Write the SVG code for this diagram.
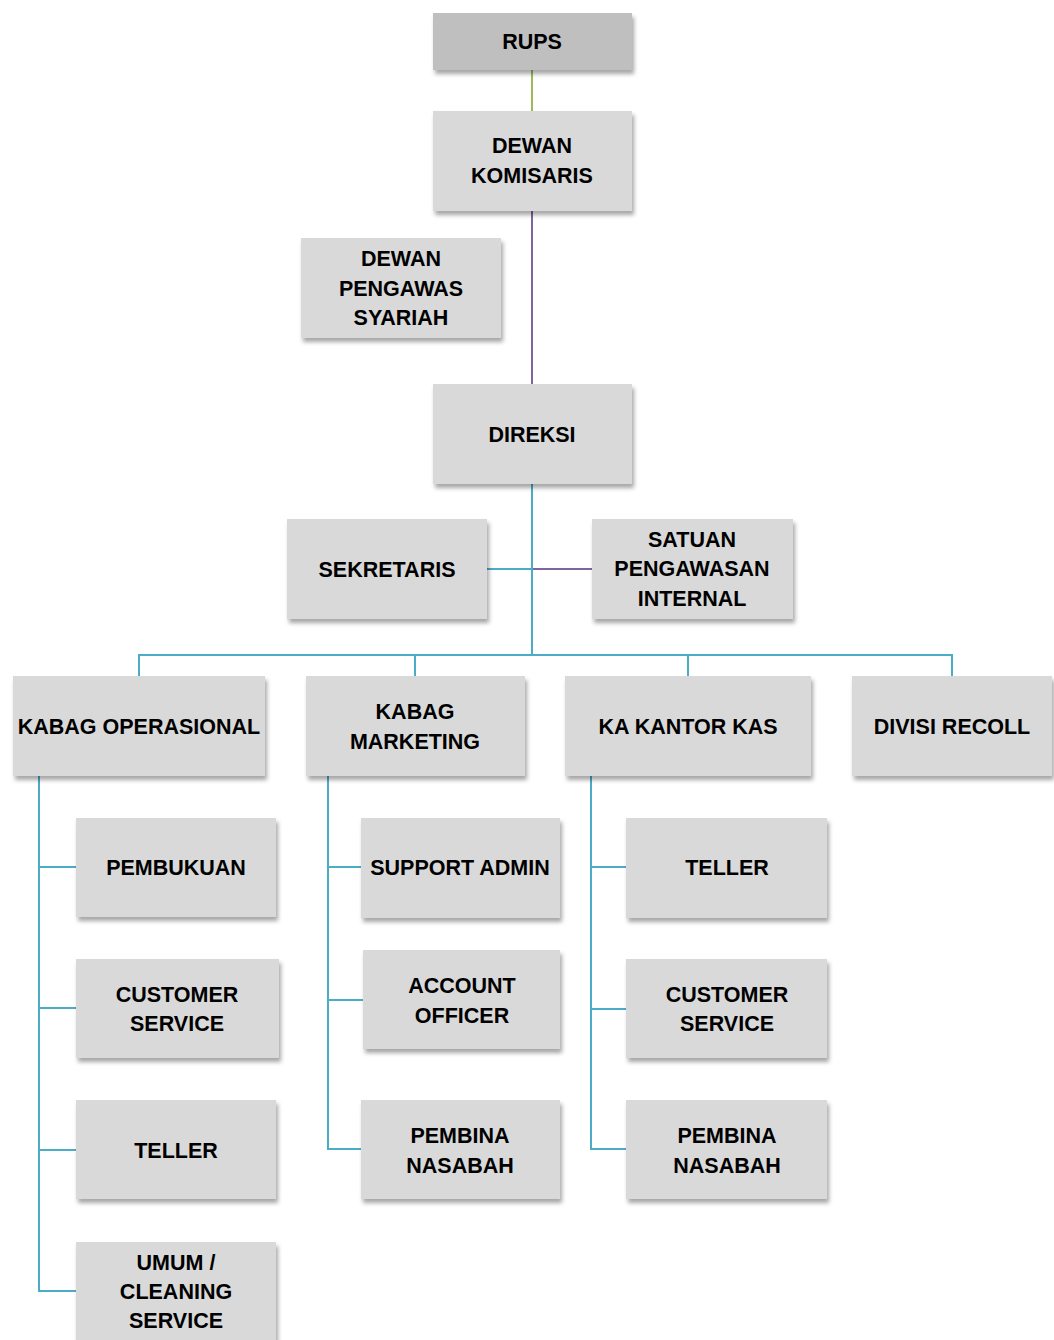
<svg xmlns="http://www.w3.org/2000/svg" width="1054" height="1340" viewBox="0 0 1054 1340">
<defs>
<filter id="sh" x="-10%" y="-10%" width="125%" height="135%">
<feDropShadow dx="2" dy="4" stdDeviation="2" flood-color="#000" flood-opacity="0.35"/>
</filter>
<style>
.box{fill:#d9d9d9;filter:url(#sh)}
.dark{fill:#bfbfbf}
.t{font-family:"Liberation Sans",Arial,sans-serif;font-weight:bold;font-size:21.5px;fill:#000;text-anchor:middle}
.b{stroke:#4bacc6;stroke-width:2;fill:none}
.g{stroke:#9bbb59;stroke-width:2;fill:none}
.p{stroke:#8064a2;stroke-width:2;fill:none}
</style>
</defs>
<rect width="1054" height="1340" fill="#fff"/>
<g id="connectors">
<path class="g" d="M532 70V111"/>
<path class="p" d="M532 211V384"/>
<path class="b" d="M532 484V655"/>
<path class="b" d="M487 569H532"/>
<path class="p" d="M533 569H592"/>
<path class="b" d="M139 676V655H952V676M415 655V676M688 655V676"/>
<path class="b" d="M39 776V1291H76M39 867H76M39 1008H76M39 1150H76"/>
<path class="b" d="M328 776V1149H361M328 867H361M328 1000H363"/>
<path class="b" d="M591 776V1149H626M591 867H626M591 1009H626"/>
</g>
<g id="rups"><rect class="box dark" x="433" y="13" width="199" height="57"/><text class="t" x="532" y="49">RUPS</text></g>
<g id="dewan-komisaris"><rect class="box" x="433" y="111" width="199" height="100"/><text class="t" x="532" y="153">DEWAN</text><text class="t" x="532" y="183">KOMISARIS</text></g>
<g id="dewan-pengawas-syariah"><rect class="box" x="301" y="238" width="200" height="100"/><text class="t" x="401" y="266">DEWAN</text><text class="t" x="401" y="296">PENGAWAS</text><text class="t" x="401" y="325">SYARIAH</text></g>
<g id="direksi"><rect class="box" x="433" y="384" width="199" height="100"/><text class="t" x="532" y="442">DIREKSI</text></g>
<g id="sekretaris"><rect class="box" x="287" y="519" width="200" height="100"/><text class="t" x="387" y="577">SEKRETARIS</text></g>
<g id="spi"><rect class="box" x="592" y="519" width="201" height="100"/><text class="t" x="692" y="547">SATUAN</text><text class="t" x="692" y="576">PENGAWASAN</text><text class="t" x="692" y="606">INTERNAL</text></g>
<g id="kabag-operasional"><rect class="box" x="13" y="676" width="252" height="100"/><text class="t" x="139" y="734">KABAG OPERASIONAL</text></g>
<g id="kabag-marketing"><rect class="box" x="306" y="676" width="219" height="100"/><text class="t" x="415" y="719">KABAG</text><text class="t" x="415" y="749">MARKETING</text></g>
<g id="ka-kantor-kas"><rect class="box" x="565" y="676" width="246" height="100"/><text class="t" x="688" y="734">KA KANTOR KAS</text></g>
<g id="divisi-recoll"><rect class="box" x="852" y="676" width="200" height="100"/><text class="t" x="952" y="734">DIVISI RECOLL</text></g>
<g id="pembukuan"><rect class="box" x="76" y="818" width="200" height="99"/><text class="t" x="176" y="875">PEMBUKUAN</text></g>
<g id="customer-service-op"><rect class="box" x="76" y="959" width="203" height="99"/><text class="t" x="177" y="1002">CUSTOMER</text><text class="t" x="177" y="1031">SERVICE</text></g>
<g id="teller-op"><rect class="box" x="76" y="1100" width="200" height="99"/><text class="t" x="176" y="1158">TELLER</text></g>
<g id="umum-cleaning"><rect class="box" x="76" y="1242" width="200" height="110"/><text class="t" x="176" y="1270">UMUM /</text><text class="t" x="176" y="1299">CLEANING</text><text class="t" x="176" y="1328">SERVICE</text></g>
<g id="support-admin"><rect class="box" x="361" y="818" width="199" height="100"/><text class="t" x="460" y="875">SUPPORT ADMIN</text></g>
<g id="account-officer"><rect class="box" x="363" y="950" width="197" height="99"/><text class="t" x="462" y="993">ACCOUNT</text><text class="t" x="462" y="1023">OFFICER</text></g>
<g id="pembina-nasabah-mkt"><rect class="box" x="361" y="1100" width="199" height="99"/><text class="t" x="460" y="1143">PEMBINA</text><text class="t" x="460" y="1173">NASABAH</text></g>
<g id="teller-kas"><rect class="box" x="626" y="818" width="201" height="100"/><text class="t" x="727" y="875">TELLER</text></g>
<g id="customer-service-kas"><rect class="box" x="626" y="959" width="201" height="99"/><text class="t" x="727" y="1002">CUSTOMER</text><text class="t" x="727" y="1031">SERVICE</text></g>
<g id="pembina-nasabah-kas"><rect class="box" x="626" y="1100" width="201" height="99"/><text class="t" x="727" y="1143">PEMBINA</text><text class="t" x="727" y="1173">NASABAH</text></g>
</svg>
